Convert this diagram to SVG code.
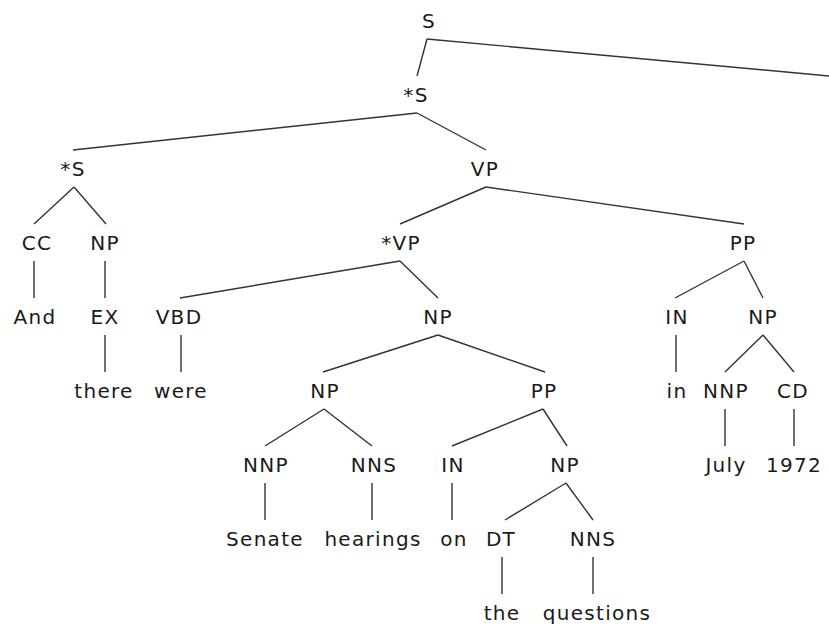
<svg xmlns="http://www.w3.org/2000/svg" width="829" height="627" viewBox="0 0 829 627">
<style>
text{font-family:"DejaVu Sans",sans-serif;font-size:20px;letter-spacing:1.3px;fill:#1a1a1a;text-anchor:middle}
#edges line{stroke:#333;stroke-width:1.4;fill:none}
</style>
<rect width="829" height="627" fill="#fff"/>
<g id="edges">
<line x1="427" y1="39" x2="417" y2="76"/>
<line x1="427" y1="39" x2="840" y2="77"/>
<line x1="417" y1="113" x2="73" y2="150"/>
<line x1="417" y1="113" x2="486" y2="150"/>
<line x1="74" y1="187" x2="34" y2="224"/>
<line x1="74" y1="187" x2="106" y2="224"/>
<line x1="486" y1="187" x2="400" y2="224"/>
<line x1="486" y1="187" x2="744" y2="224"/>
<line x1="34" y1="261" x2="34" y2="298"/>
<line x1="105" y1="261" x2="105" y2="298"/>
<line x1="400" y1="261" x2="180" y2="298"/>
<line x1="400" y1="261" x2="438" y2="298"/>
<line x1="744" y1="261" x2="675" y2="298"/>
<line x1="744" y1="261" x2="763" y2="298"/>
<line x1="105" y1="335" x2="105" y2="372"/>
<line x1="181" y1="335" x2="181" y2="372"/>
<line x1="438" y1="335" x2="323" y2="372"/>
<line x1="438" y1="335" x2="545" y2="372"/>
<line x1="676" y1="335" x2="676" y2="372"/>
<line x1="763" y1="335" x2="725" y2="372"/>
<line x1="763" y1="335" x2="794" y2="372"/>
<line x1="324" y1="409" x2="265" y2="446"/>
<line x1="324" y1="409" x2="372" y2="446"/>
<line x1="543" y1="409" x2="452" y2="446"/>
<line x1="543" y1="409" x2="567" y2="446"/>
<line x1="725" y1="409" x2="725" y2="446"/>
<line x1="794" y1="409" x2="794" y2="446"/>
<line x1="265" y1="483" x2="265" y2="520"/>
<line x1="372" y1="483" x2="372" y2="520"/>
<line x1="452" y1="483" x2="452" y2="520"/>
<line x1="566" y1="483" x2="505" y2="520"/>
<line x1="566" y1="483" x2="593" y2="520"/>
<line x1="502" y1="557" x2="502" y2="594"/>
<line x1="593" y1="557" x2="593" y2="594"/>
</g>
<g id="n_S"><text x="429" y="28">S</text></g>
<g id="n_S1"><text x="416" y="102">*S</text></g>
<g id="n_S2"><text x="73" y="176">*S</text></g>
<g id="n_VP"><text x="485" y="176">VP</text></g>
<g id="n_CC"><text x="37" y="250">CC</text></g>
<g id="n_NP1"><text x="105" y="250">NP</text></g>
<g id="n_VP2"><text x="401" y="250">*VP</text></g>
<g id="n_PP1"><text x="743" y="250">PP</text></g>
<g id="n_And"><text x="35" y="324">And</text></g>
<g id="n_EX"><text x="105" y="324">EX</text></g>
<g id="n_VBD"><text x="179" y="324">VBD</text></g>
<g id="n_NP2"><text x="438" y="324">NP</text></g>
<g id="n_IN1"><text x="677" y="324">IN</text></g>
<g id="n_NP3"><text x="763" y="324">NP</text></g>
<g id="n_there"><text x="104" y="398">there</text></g>
<g id="n_were"><text x="181" y="398">were</text></g>
<g id="n_NP4"><text x="325" y="398">NP</text></g>
<g id="n_PP2"><text x="544" y="398">PP</text></g>
<g id="n_in"><text x="677" y="398">in</text></g>
<g id="n_NNP1"><text x="726" y="398">NNP</text></g>
<g id="n_CD"><text x="793" y="398">CD</text></g>
<g id="n_NNP2"><text x="266" y="472">NNP</text></g>
<g id="n_NNS1"><text x="374" y="472">NNS</text></g>
<g id="n_IN2"><text x="453" y="472">IN</text></g>
<g id="n_NP5"><text x="565" y="472">NP</text></g>
<g id="n_July"><text x="726" y="472">July</text></g>
<g id="n_1972"><text x="794" y="472">1972</text></g>
<g id="n_Senate"><text x="265" y="546">Senate</text></g>
<g id="n_hearings"><text x="373" y="546">hearings</text></g>
<g id="n_on"><text x="454" y="546">on</text></g>
<g id="n_DT"><text x="501" y="546">DT</text></g>
<g id="n_NNS2"><text x="593" y="546">NNS</text></g>
<g id="n_the"><text x="502" y="620">the</text></g>
<g id="n_questions"><text x="597" y="620">questions</text></g>
</svg>
